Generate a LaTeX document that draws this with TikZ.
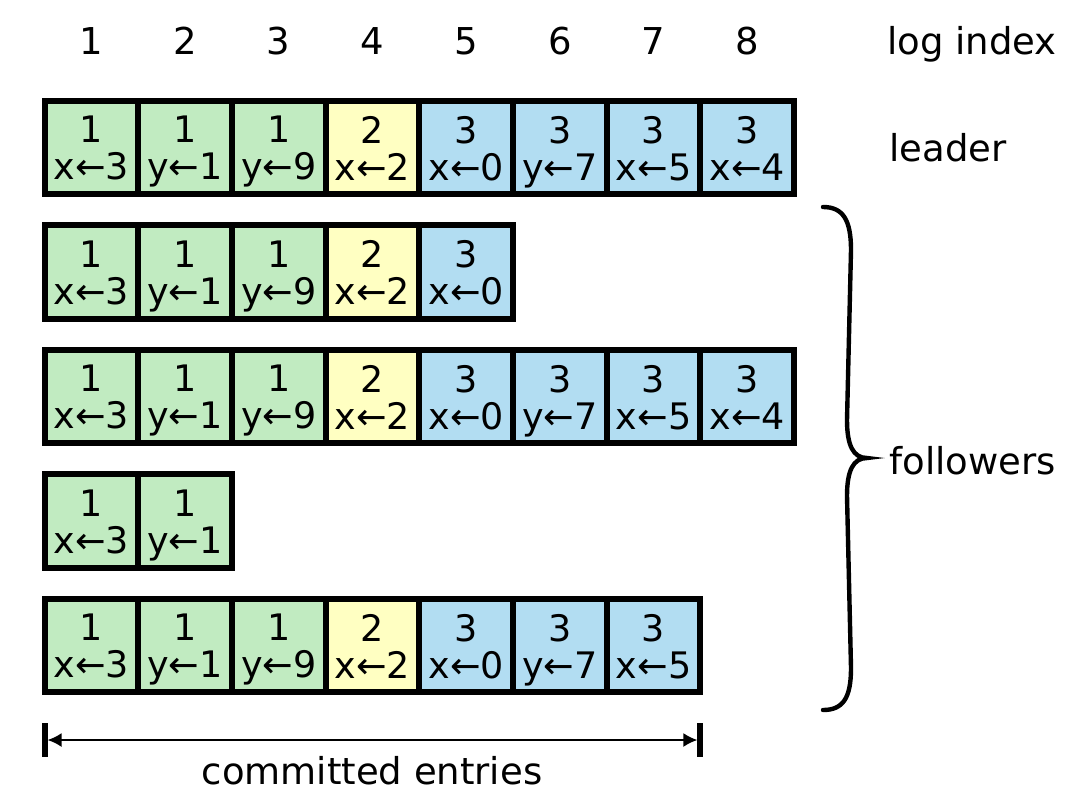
\documentclass[tikz,border=0pt]{standalone}
\usepackage{fontspec}
\setmainfont{DejaVu Sans}
\usetikzlibrary{arrows.meta}
\definecolor{cgreen}{RGB}{193,235,193}
\definecolor{cyellow}{RGB}{255,255,194}
\definecolor{cblue}{RGB}{178,221,242}
\begin{document}
\begin{tikzpicture}[x=0.5pt,y=-0.5pt,
  cellbox/.style={draw=black, line width=3pt, minimum size=46.85pt, inner sep=0pt, outer sep=0pt},
  celltxt/.style={inner sep=0pt, align=center, font=\fontsize{18.25pt}{18.5pt}\selectfont},
  lbl/.style={inner sep=0pt, font=\fontsize{18.5pt}{22pt}\selectfont},
  brace/.style={line width=2.2pt, line cap=round},
  commitline/.style={line width=1pt, shorten <=1.5pt, shorten >=1.5pt, {Latex[length=7pt,width=7pt]}-{Latex[length=7pt,width=7pt]}},
  endbar/.style={line width=3pt}]
\useasboundingbox[fill=white] (0,0) rectangle (1080,793);
\foreach \r/\n in {1/8,2/5,3/8,4/2,5/7}{
  \foreach \t/\cmd/\col [count=\i] in {1/x←3/cgreen, 1/y←1/cgreen, 1/y←9/cgreen, 2/x←2/cyellow, 3/x←0/cblue, 3/y←7/cblue, 3/x←5/cblue, 3/x←4/cblue}{
    \ifnum\i>\n\relax\else
      \node[cellbox, fill=\col] (r\r c\i) at ({44.5+93.7*(\i-0.5)}, {147.5+124.5*(\r-1)}) {};
      \node[celltxt, anchor=north] (r\r c\i t) at ([yshift=15.8pt]r\r c\i.center) {\t\\\cmd};
    \fi
  }
}
\foreach \i in {1,...,8} \node[lbl, anchor=base] (h\i) at ({44.5+93.7*(\i-0.5)},54) {\i};
\node[lbl, anchor=base west] (hlog) at (887,54) {log index};
\node[lbl, anchor=base west] (lead) at (889,161) {leader};
\node[lbl, anchor=base west] (foll) at (889,474) {followers};
\draw[brace] (823,207) .. controls (843,207) and (851,220) .. (851,250) -- (847,420) .. controls (847,445) and (853,458) .. (867,458) .. controls (853,458) and (847,471) .. (847,496) -- (851,668) .. controls (851,698) and (843,710) .. (823,710);
\coordinate (cl) at (44.5,740);
\coordinate (cr) at (700.4,740);
\draw[commitline] (cl) -- (cr);
\draw[endbar] ([yshift=8.5pt]cl) -- ([yshift=-8.5pt]cl);
\draw[endbar] ([yshift=8.5pt]cr) -- ([yshift=-8.5pt]cr);
\node[lbl, anchor=base] (ce) at (372,784) {committed entries};
\end{tikzpicture}
\end{document}
